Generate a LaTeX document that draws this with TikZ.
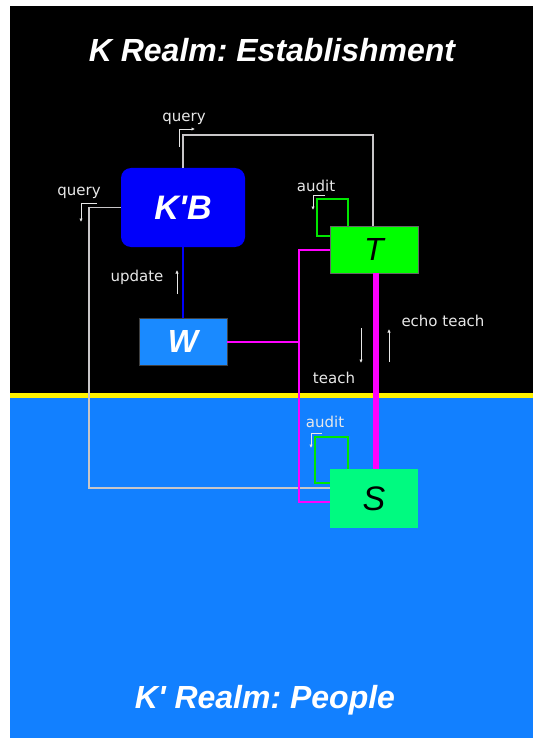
\documentclass[tikz,border=0pt]{standalone}
\usepackage{fontspec}
\setmainfont{Liberation Sans}[Ligatures=TeXOff]
\newfontfamily\lblfont{DejaVu Sans}[Ligatures=TeXOff]
\usetikzlibrary{arrows.meta}
\frenchspacing
\definecolor{bgblue}{RGB}{18,128,255}
\definecolor{kbblue}{RGB}{0,0,250}
\definecolor{wblue}{RGB}{26,138,255}
\definecolor{tgreen}{RGB}{0,255,0}
\definecolor{sgreen}{RGB}{0,250,128}
\definecolor{mag}{RGB}{255,0,255}
\definecolor{qgray}{RGB}{200,198,200}
\definecolor{lblgray}{RGB}{232,232,232}
\definecolor{loopgreen}{RGB}{0,230,0}
\tikzset{
  boxtext/.style={font=\fontsize{32}{34}\selectfont\bfseries\itshape},
  kbbox/.style={rounded corners=10pt, fill=kbblue, text=white, minimum width=124pt, minimum height=79pt, inner sep=0pt, boxtext, font=\fontsize{34}{36}\selectfont\bfseries\itshape},
  wbox/.style={fill=wblue, draw=black!75, line width=0.8pt, text=white, minimum width=88pt, minimum height=47pt, inner sep=0pt, boxtext},
  tbox/.style={fill=tgreen, draw=black!60, line width=0.6pt, text=black, minimum width=88pt, minimum height=47pt, inner sep=0pt, font=\fontsize{32}{34}\selectfont\itshape},
  sbox/.style={fill=sgreen, text=black, minimum width=88pt, minimum height=59pt, inner sep=0pt, font=\fontsize{34}{36}\selectfont\itshape},
  qline/.style={draw=qgray, line width=1.8pt},
  bline/.style={draw=kbblue, line width=2pt},
  mthin/.style={draw=mag, line width=2pt},
  mthick/.style={draw=mag, line width=6pt},
  gline/.style={draw=loopgreen, line width=2pt},
  sarr/.style={draw=lblgray, line width=0.9pt, -{Latex[length=3.5pt,width=3.5pt]}},
  lbl/.style={text=lblgray, font=\lblfont\fontsize{15}{16}\selectfont, inner sep=0pt},
  titletext/.style={text=white, font=\fontsize{32}{36}\selectfont\bfseries\itshape, inner sep=0pt, anchor=base}
}
\begin{document}
\begin{tikzpicture}[x=1pt,y=-1pt]
\useasboundingbox (0,0) rectangle (533,738);
\fill[white] (0,0) rectangle (533,738);
\fill[black] (10,6) rectangle (533,393);
\fill[bgblue] (10,398) rectangle (533,738);
\fill[yellow] (10,393) rectangle (533,398);

% titles
\node[titletext] (t1) at (272,62) {K Realm: Establishment};
\node[titletext] (t2) at (265,708) {K' Realm: People};

% boxes
\node[kbbox] (KB) at (183,207.5) {K'B};
\node[wbox] (W) at (183,341.5) {W};
\node[tbox] (T) at (374,249.5) {T};
\node[sbox] (S) at (374,498.5) {S};

% query connectors
\draw[qline] (KB.north) -- (KB.north |- 0,135) -| ([xshift=-1pt]T.north);
\coordinate (qL) at (89,488);
\draw[qline] (KB.west) -| (qL) -- (qL -| S.west);

% update
\draw[bline] (KB.south) -- (W.north);

% magenta
\draw[mthin] (T.west) -| (299,502) -- (S.west |- 0,502);
\draw[mthin] (W.east) -- (W.east -| 299,0);
\draw[mthick] ([xshift=2pt]T.south) -- ([xshift=2pt]S.north);

% audit loops
\draw[gline] ([xshift=-26pt]T.north) |- (317,199) |- (T.west |- 0,236);
\draw[gline] ([xshift=-26pt]S.north) |- (315,437) |- (S.west |- 0,483);

% small direction arrows
\coordinate (a1s) at (179,147); \coordinate (a1e) at (195,129);
\draw[sarr] (a1s) |- (a1e);
\coordinate (a2s) at (97,203); \coordinate (a2e) at (81,222);
\draw[sarr] (a2s) -| (a2e);
\coordinate (a3s) at (177,294); \coordinate (a3e) at (177,270);
\draw[sarr] (a3s) -- (a3e);
\coordinate (a4s) at (325,195); \coordinate (a4e) at (313,210);
\draw[sarr] (a4s) -| (a4e);
\coordinate (a5s) at (322,433); \coordinate (a5e) at (311,448);
\draw[sarr] (a5s) -| (a5e);
\coordinate (a6s) at (361,328); \coordinate (a6e) at (361,363);
\draw[sarr] (a6s) -- (a6e);
\coordinate (a7s) at (389,362); \coordinate (a7e) at (389,329);
\draw[sarr] (a7s) -- (a7e);

% labels
\node[lbl] (l1) at (184,119) {query};
\node[lbl] (l2) at (79,193) {query};
\node[lbl] (l3) at (137,277) {update};
\node[lbl] (l4) at (316,186) {audit};
\node[lbl] (l5) at (325,422) {audit};
\node[lbl] (l6) at (334,378) {teach};
\node[lbl] (l7) at (443,321) {echo teach};
\end{tikzpicture}
\end{document}
